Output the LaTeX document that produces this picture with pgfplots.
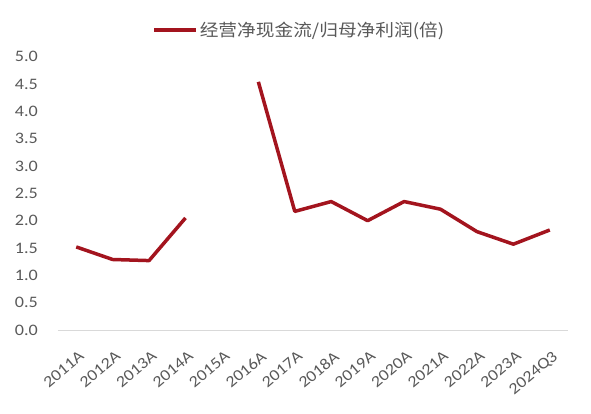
\documentclass[border=0pt]{standalone}
\usepackage{pgfplots}
\pgfplotsset{compat=1.18}
\usepackage{fontspec}
\setmainfont{Carlito}[FakeStretch=1.13]
\newfontfamily\cjk{Noto Sans CJK SC}[FakeStretch=1.1]
\definecolor{lred}{RGB}{163,20,30}
\definecolor{tgray}{RGB}{89,89,89}
\definecolor{agray}{RGB}{217,217,217}
\newcommand\tfont{\fontsize{16pt}{18pt}\selectfont}
\begin{document}
\begin{tikzpicture}
\useasboundingbox (-58pt,-83pt) rectangle (533pt,273.3pt+56.7pt);
\begin{axis}[
  at={(0,0)}, anchor=south west,
  scale only axis, width=510pt, height=273.3pt,
  xmin=-0.5, xmax=13.5, ymin=0, ymax=5,
  xtick={0,...,13},
  xticklabels={2011A,2012A,2013A,2014A,2015A,2016A,2017A,2018A,2019A,2020A,2021A,2022A,2023A,2024Q3},
  x tick label style={xshift=2pt, yshift=-20pt, rotate=40, font=\tfont, text=tgray, anchor=north east, inner sep=0pt},
  ytick={0,0.5,...,5},
  y tick label style={font=\tfont, text=tgray, anchor=east, inner sep=0pt, xshift=-20pt,
    /pgf/number format/fixed, /pgf/number format/fixed zerofill, /pgf/number format/precision=1},
  /pgf/number format/assume math mode=true,
  major tick length=0pt,
  axis x line*=bottom, axis y line*=left,
  x axis line style={agray, line width=1pt, -},
  y axis line style={draw=none},
  unbounded coords=jump,
  legend style={at={(0.473,1.098)}, anchor=center, draw=none, fill=none,
    font=\cjk\fontsize{17pt}{19pt}\selectfont, text=tgray, inner sep=0pt},
  legend image code/.code={\draw[#1] (0pt,0pt) -- (42pt,0pt);},
  clip=false,
]
\addplot[lred, line width=3.5pt, line join=round] coordinates {
(0,1.52) (1,1.29) (2,1.27) (3,2.05) (4,nan) (5,4.54) (6,2.17) (7,2.35) (8,2.0) (9,2.35) (10,2.21) (11,1.80) (12,1.57) (13,1.83)
};
\addlegendentry{经营净现金流/归母净利润(倍)}
\end{axis}
\end{tikzpicture}
\end{document}
